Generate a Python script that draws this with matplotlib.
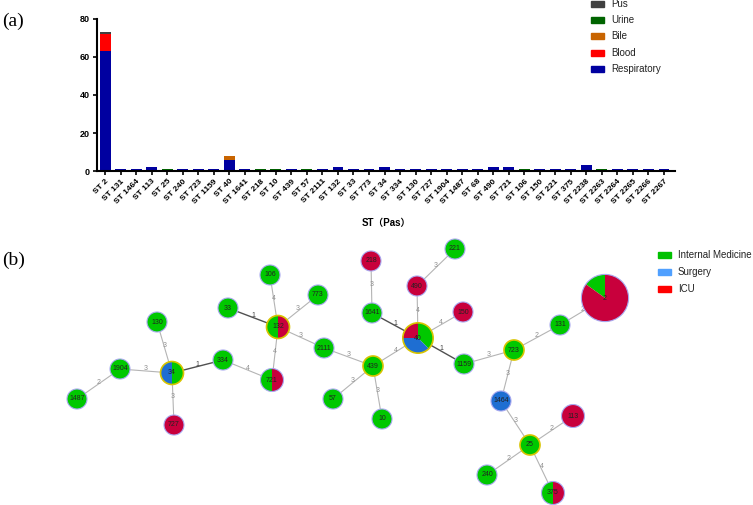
import matplotlib
matplotlib.use("Agg")
import numpy as np
import matplotlib.pyplot as plt
from matplotlib.patches import Wedge, Circle, Rectangle

W, H = 753, 505
plt.rcParams['font.family'] = ['Liberation Sans', 'Noto Sans CJK SC', 'DejaVu Sans']

# ---- (a) isolates per sequence type and specimen ----
st_types = ['2', '131', '1464', '113', '25', '240', '723', '1159', '40', '1641',
            '218', '10', '439', '57', '2111', '132', '33', '773', '34', '334',
            '130', '727', '1904', '1487', '68', '490', '721', '106', '150', '221',
            '375', '2238', '2263', '2264', '2265', '2266', '2267']
respiratory = [63, 1, 1, 2, 0, 1, 1, 1, 6, 1, 0, 0, 1, 0, 1, 2, 1, 1, 2, 1,
               1, 1, 1, 1, 1, 2, 2, 0, 1, 1, 1, 3, 0, 1, 1, 1, 1]
blood = [9] + [0] * 36
bile = [0] * 8 + [2] + [0] * 28
urine = [0, 0, 0, 0, 1, 0, 0, 0, 0, 0, 1, 1, 0, 1, 0, 0, 0, 0, 0, 0,
         0, 0, 0, 0, 0, 0, 0, 1, 0, 0, 0, 0, 1, 0, 0, 0, 0]
pus = [1] + [0] * 36
specimens = ['Pus', 'Urine', 'Bile', 'Blood', 'Respiratory']
spec_colors = {'Respiratory': '#0000A0', 'Blood': '#FF0000', 'Bile': '#C86400',
               'Urine': '#006400', 'Pus': '#404040'}

# ---- (b) minimum spanning tree: department counts per ST ----
mst_st = ['2', '131', '723', '1159', '40', '1641', '218', '490', '221', '150',
          '439', '57', '10', '2111', '132', '33', '106', '773', '721', '334',
          '34', '130', '1904', '1487', '727', '1464', '25', '113', '240', '375']
internal_med = [11, 1, 1, 1, 3, 1, 0, 0, 1, 0, 1, 1, 1, 1, 1, 1, 1, 1, 1, 1,
                1, 1, 1, 1, 0, 0, 1, 0, 1, 1]
surgery = [0, 0, 0, 0, 3, 0, 0, 0, 0, 0, 0, 0, 0, 0, 0, 0, 0, 0, 0, 0,
           1, 0, 0, 0, 0, 1, 0, 0, 0, 0]
icu = [62, 0, 0, 0, 2, 0, 1, 1, 0, 1, 0, 0, 0, 0, 1, 0, 0, 0, 1, 0,
       0, 0, 0, 0, 1, 0, 0, 2, 0, 1]
edges = [('2', '131', 2), ('131', '723', 2), ('723', '1159', 3), ('1159', '40', 1),
         ('723', '1464', 3), ('1464', '25', 3), ('25', '113', 2), ('25', '240', 2),
         ('25', '375', 4), ('40', '1641', 1), ('1641', '218', 3), ('40', '490', 4),
         ('490', '221', 3), ('40', '150', 4), ('40', '439', 4), ('439', '57', 3),
         ('439', '10', 3), ('439', '2111', 3), ('2111', '132', 3), ('132', '33', 1),
         ('132', '106', 4), ('132', '773', 3), ('132', '721', 4), ('721', '334', 4),
         ('334', '34', 1), ('34', '130', 3), ('34', '1904', 3), ('1904', '1487', 2),
         ('34', '727', 3)]
depts = ['Internal Medicine', 'Surgery', 'ICU']

# layout (pixel positions from top-left) and pie start angles
node_xy = {'2': (605, 298), '131': (560, 325), '723': (514, 350), '1159': (464, 364),
           '40': (418, 338), '1641': (372, 313), '218': (371, 261), '490': (417, 286),
           '221': (455, 249), '150': (463, 312), '439': (373, 366), '57': (333, 399),
           '10': (382, 419), '2111': (324, 348), '132': (278, 327), '33': (228, 308),
           '106': (270, 275), '773': (318, 295), '721': (272, 380), '334': (223, 360),
           '34': (172, 373), '130': (157, 322), '1904': (120, 369), '1487': (77, 399),
           '727': (174, 425), '1464': (501, 401), '25': (530, 445), '113': (573, 416),
           '240': (487, 475), '375': (553, 493)}
start_angle = {'40': -45, '34': -90}
founders = {'34', '132', '439', '40', '723', '25'}
pie_colors = {'Internal Medicine': '#00C800', 'ICU': '#C8003C', 'Surgery': '#1E6ED2'}
legend_colors = {'Internal Medicine': '#00C000', 'Surgery': '#50A0FF', 'ICU': '#FF0000'}

fig = plt.figure(figsize=(W / 100, H / 100), dpi=100)

# ---------- panel (a) ----------
ax = fig.add_axes([97 / W, 1 - 171 / H, (675 - 97) / W, (171 - 19) / H])
x = np.arange(len(st_types))
bottom = np.zeros(len(st_types))
for name, vals in [('Respiratory', respiratory), ('Blood', blood), ('Bile', bile),
                   ('Urine', urine), ('Pus', pus)]:
    vals = np.array(vals)
    ax.bar(x, vals, 0.7, bottom=bottom, color=spec_colors[name], edgecolor='none')
    bottom += vals
ax.set_xlim(-0.52, len(st_types) - 0.29)
ax.set_ylim(0, 80)
ax.set_yticks([0, 20, 40, 60, 80])
ax.set_xticks(x)
ax.set_xticklabels(['ST ' + s for s in st_types], rotation=45, ha='right',
                   rotation_mode='anchor', fontsize=6, fontweight='bold')
for lab in ax.get_yticklabels():
    lab.set_fontsize(6.5)
    lab.set_fontweight('bold')
for side in ['top', 'right']:
    ax.spines[side].set_visible(False)
for side in ['left', 'bottom']:
    ax.spines[side].set_linewidth(1.5)
ax.tick_params(length=3, width=1.2, pad=2)
ax.set_xlabel('ST（Pas）', fontsize=7, fontweight='bold', labelpad=9)

# ---------- overlay in pixel coordinates ----------
net = fig.add_axes([0, 0, 1, 1])
net.set_xlim(0, W)
net.set_ylim(0, H)
net.axis('off')
net.patch.set_visible(False)


def P(name):
    px, py = node_xy[name]
    return px, H - py


# legend (a)
for i, name in enumerate(specimens):
    yy = H - (4 + i * 16.2)
    net.add_patch(Rectangle((591, yy - 3), 13, 6, color=spec_colors[name]))
    net.text(611, yy, name, fontsize=7, va='center', ha='left', color='#222222')

# legend (b)
for i, name in enumerate(depts):
    yy = H - (255 + i * 17)
    net.add_patch(Rectangle((658, yy - 3), 13, 6, color=legend_colors[name]))
    net.text(678, yy, name, fontsize=7, va='center', ha='left', color='#222222')

net.text(2, H - 21, '(a)', fontsize=14, family='Liberation Serif', va='center')
net.text(2, H - 260, '(b)', fontsize=14, family='Liberation Serif', va='center')

# edges
for a, b, w in edges:
    (x1, y1), (x2, y2) = P(a), P(b)
    col = '#505050' if w == 1 else '#B4B4B4'
    net.plot([x1, x2], [y1, y2], color=col, lw=1.0 if w == 1 else 0.8, zorder=1)
    mx, my = (x1 + x2) / 2, (y1 + y2) / 2 + 2
    net.text(mx, my, str(w), fontsize=5, ha='center', va='center',
             color='#404040' if w == 1 else '#909090', zorder=1)

# nodes
for i, name in enumerate(mst_st):
    counts = {'Internal Medicine': internal_med[i], 'Surgery': surgery[i], 'ICU': icu[i]}
    total = sum(counts.values())
    r = 10 * total ** 0.2
    cx, cy = P(name)
    theta = start_angle.get(name, 90)
    for dep in ['Internal Medicine', 'ICU', 'Surgery']:
        if counts[dep] == 0:
            continue
        span = 360 * counts[dep] / total
        net.add_patch(Wedge((cx, cy), r, theta, theta + span,
                            facecolor=pie_colors[dep], edgecolor='none', zorder=2))
        theta += span
    if name in founders:
        net.add_patch(Circle((cx, cy), r, facecolor='none', edgecolor='#D8C400',
                             lw=1.2, zorder=3))
    else:
        net.add_patch(Circle((cx, cy), r, facecolor='none', edgecolor='#A8A8F0',
                             lw=0.8, zorder=3))
    net.text(cx, cy, name, fontsize=5, ha='center', va='center', color='#222222',
             zorder=4)

fig.savefig('out.png', dpi=100)
